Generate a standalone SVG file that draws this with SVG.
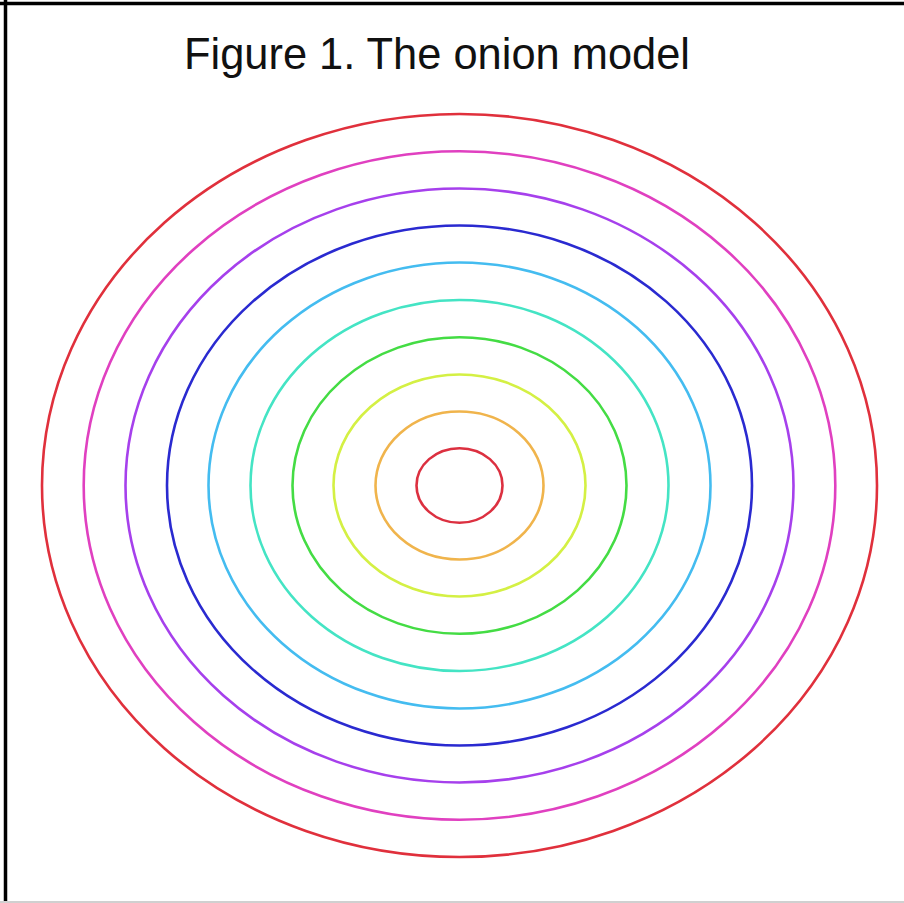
<svg xmlns="http://www.w3.org/2000/svg" width="904" height="903" viewBox="0 0 904 903">
  <style>
    .ring { fill: none; stroke-width: 2.6; }
    .title { font-family: "Liberation Sans", Arial, sans-serif; font-size: 45px; fill: #111; }
  </style>
  <rect x="0" y="0" width="904" height="903" fill="#ffffff"/>
  <g id="frame">
    <line x1="0" y1="3.5" x2="904" y2="3.5" stroke="#000" stroke-width="3.5"/>
    <line x1="5.5" y1="0" x2="5.5" y2="903" stroke="#000" stroke-width="3.5"/>
    <line x1="0" y1="902" x2="904" y2="902" stroke="#d0d0d0" stroke-width="2"/>
  </g>
  <g id="title">
    <text class="title" x="184" y="69" textLength="506" lengthAdjust="spacingAndGlyphs">Figure 1. The onion model</text>
  </g>
  <g id="rings">
    <ellipse id="ring10" class="ring" cx="459.5" cy="485.5" rx="417.5" ry="371.5" stroke="#e0303c"/>
    <ellipse id="ring9" class="ring" cx="459.5" cy="485.5" rx="375.8" ry="334.2" stroke="#e040c0"/>
    <ellipse id="ring8" class="ring" cx="459.5" cy="485.5" rx="334" ry="297" stroke="#a640ec"/>
    <ellipse id="ring7" class="ring" cx="459.5" cy="485.5" rx="292.5" ry="260" stroke="#2a2ad0"/>
    <ellipse id="ring6" class="ring" cx="459.5" cy="485.5" rx="251" ry="223" stroke="#44bcf0"/>
    <ellipse id="ring5" class="ring" cx="459.5" cy="485.5" rx="209" ry="185.5" stroke="#44e4c4"/>
    <ellipse id="ring4" class="ring" cx="459.5" cy="485.5" rx="167" ry="148.3" stroke="#44dc44"/>
    <ellipse id="ring3" class="ring" cx="459.5" cy="485.5" rx="126" ry="111" stroke="#d4f044"/>
    <ellipse id="ring2" class="ring" cx="459.5" cy="485.5" rx="84" ry="74" stroke="#f0b44c"/>
    <ellipse id="ring1" class="ring" cx="459.5" cy="485.5" rx="43" ry="37.3" stroke="#dc3040"/>
  </g>
</svg>
